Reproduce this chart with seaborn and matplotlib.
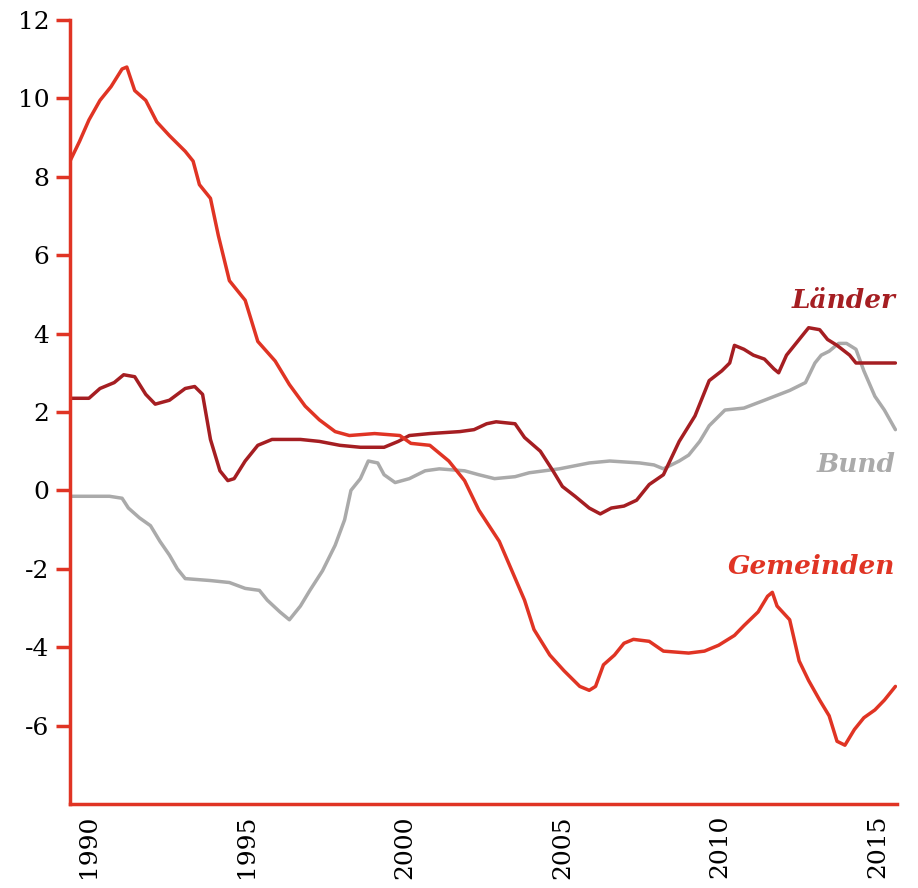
import numpy as np
import pandas as pd
import matplotlib.pyplot as plt
import seaborn as sns

# Haushaltssalden
gem_year = [1989.4, 1989.7, 1990.0, 1990.35, 1990.7, 1991.05, 1991.2, 1991.45, 1991.8, 1992.15,
            1992.55, 1993.05, 1993.3, 1993.5, 1993.85, 1994.1, 1994.45, 1994.95, 1995.35, 1995.9,
            1996.35, 1996.85, 1997.3, 1997.8, 1998.25, 1999.05, 1999.85, 2000.2, 2000.8, 2001.4,
            2001.9, 2002.35, 2003.0, 2003.4, 2003.8, 2004.1, 2004.6, 2005.05, 2005.55, 2005.85,
            2006.05, 2006.3, 2006.65, 2006.95, 2007.25, 2007.75, 2008.2, 2009.0, 2009.5, 2009.95,
            2010.45, 2010.75, 2011.2, 2011.5, 2011.65, 2011.8, 2012.2, 2012.5, 2012.8, 2013.15,
            2013.45, 2013.7, 2013.95, 2014.25, 2014.55, 2014.9, 2015.2, 2015.55]
gem_val = [8.4, 8.9, 9.45, 9.95, 10.3, 10.75, 10.8, 10.2, 9.95, 9.4,
           9.05, 8.65, 8.4, 7.8, 7.45, 6.5, 5.35, 4.85, 3.8, 3.3,
           2.7, 2.15, 1.8, 1.5, 1.4, 1.45, 1.4, 1.2, 1.15, 0.75,
           0.25, -0.5, -1.3, -2.05, -2.8, -3.55, -4.2, -4.6, -5.0, -5.1,
           -5.0, -4.45, -4.2, -3.9, -3.8, -3.85, -4.1, -4.15, -4.1, -3.95,
           -3.7, -3.45, -3.1, -2.7, -2.6, -2.95, -3.3, -4.35, -4.85, -5.35,
           -5.75, -6.4, -6.5, -6.1, -5.8, -5.6, -5.35, -5.0]

lae_year = [1989.4, 1990.0, 1990.35, 1990.8, 1991.1, 1991.45, 1991.8, 1992.1, 1992.55, 1993.05,
            1993.35, 1993.6, 1993.85, 1994.15, 1994.4, 1994.6, 1994.95, 1995.35, 1995.8, 1996.7,
            1997.3, 1997.95, 1998.6, 1999.35, 1999.8, 2000.15, 2000.8, 2001.75, 2002.2, 2002.6,
            2002.9, 2003.5, 2003.8, 2004.3, 2004.7, 2005.0, 2005.4, 2005.85, 2006.2, 2006.55,
            2006.95, 2007.35, 2007.75, 2008.2, 2008.7, 2009.2, 2009.65, 2010.05, 2010.3, 2010.45,
            2010.75, 2011.05, 2011.4, 2011.7, 2011.85, 2012.1, 2012.5, 2012.8, 2013.15, 2013.4,
            2013.7, 2014.1, 2014.3, 2015.55]
lae_val = [2.35, 2.35, 2.6, 2.75, 2.95, 2.9, 2.45, 2.2, 2.3, 2.6,
           2.65, 2.45, 1.3, 0.5, 0.25, 0.3, 0.75, 1.15, 1.3, 1.3,
           1.25, 1.15, 1.1, 1.1, 1.25, 1.4, 1.45, 1.5, 1.55, 1.7,
           1.75, 1.7, 1.35, 1.0, 0.5, 0.1, -0.15, -0.45, -0.6, -0.45,
           -0.4, -0.25, 0.15, 0.4, 1.25, 1.9, 2.8, 3.05, 3.25, 3.7,
           3.6, 3.45, 3.35, 3.1, 3.0, 3.45, 3.85, 4.15, 4.1, 3.85,
           3.7, 3.45, 3.25, 3.25]

bund_year = [1989.4, 1990.65, 1991.05, 1991.25, 1991.6, 1991.95, 1992.25, 1992.55, 1992.8, 1993.05,
             1993.85, 1994.45, 1994.95, 1995.4, 1995.65, 1996.05, 1996.35, 1996.7, 1997.0, 1997.4,
             1997.8, 1998.1, 1998.3, 1998.6, 1998.85, 1999.15, 1999.35, 1999.7, 2000.15, 2000.65,
             2001.1, 2001.9, 2002.35, 2002.85, 2003.5, 2003.95, 2004.9, 2005.85, 2006.5, 2007.45,
             2007.9, 2008.2, 2008.7, 2009.0, 2009.35, 2009.65, 2009.9, 2010.15, 2010.75, 2011.4,
             2012.2, 2012.7, 2013.0, 2013.2, 2013.45, 2013.75, 2014.0, 2014.3, 2014.55, 2014.9,
             2015.2, 2015.55]
bund_val = [-0.15, -0.15, -0.2, -0.45, -0.7, -0.9, -1.3, -1.65, -2.0, -2.25,
            -2.3, -2.35, -2.5, -2.55, -2.8, -3.1, -3.3, -2.95, -2.55, -2.05,
            -1.4, -0.75, 0.0, 0.3, 0.75, 0.7, 0.4, 0.2, 0.3, 0.5,
            0.55, 0.5, 0.4, 0.3, 0.35, 0.45, 0.55, 0.7, 0.75, 0.7,
            0.65, 0.55, 0.75, 0.9, 1.25, 1.65, 1.85, 2.05, 2.1, 2.3,
            2.55, 2.75, 3.25, 3.45, 3.55, 3.75, 3.75, 3.6, 3.05, 2.4,
            2.05, 1.55]

x_ticks = [1990, 1995, 2000, 2005, 2010, 2015]
y_ticks = [-6, -4, -2, 0, 2, 4, 6, 8, 10, 12]

RED = "#e03424"
DARK = "#a51e22"
GREY = "#aaaaaa"

sns.set_style("white")
plt.rcParams["font.family"] = ["DejaVu Serif"]

fig = plt.figure(figsize=(9.18, 8.88), dpi=100)
ax = fig.add_axes([70 / 918, 1 - 804 / 888, (897 - 70) / 918, (804 - 20) / 888])

sns.lineplot(x=bund_year, y=bund_val, ax=ax, color=GREY, lw=2.5)
sns.lineplot(x=lae_year, y=lae_val, ax=ax, color=DARK, lw=2.5)
sns.lineplot(x=gem_year, y=gem_val, ax=ax, color=RED, lw=2.5)

ax.set_xlim(1989.4, 2015.6)
ax.set_ylim(-8, 12)
ax.set_xticks(x_ticks)
ax.set_yticks(y_ticks)
ax.set_xticklabels([str(t) for t in x_ticks], rotation=90, fontsize=18, color="black")
ax.set_yticklabels([str(t) for t in y_ticks], fontsize=18, color="black")
ax.tick_params(axis="y", left=True, length=10, width=2.5, color=RED, pad=5)
ax.tick_params(axis="x", bottom=False, length=0, pad=8)
for s in ["top", "right"]:
    ax.spines[s].set_visible(False)
for s in ["left", "bottom"]:
    ax.spines[s].set_color(RED)
    ax.spines[s].set_linewidth(2.5)

lab = dict(ha="right", va="center", fontsize=19, fontweight="bold", style="italic")
ax.text(2015.55, 4.85, "Länder", color=DARK, **lab)
ax.text(2015.55, 0.65, "Bund", color=GREY, **lab)
ax.text(2015.55, -1.95, "Gemeinden", color=RED, **lab)

fig.savefig("out.png", dpi=100)
